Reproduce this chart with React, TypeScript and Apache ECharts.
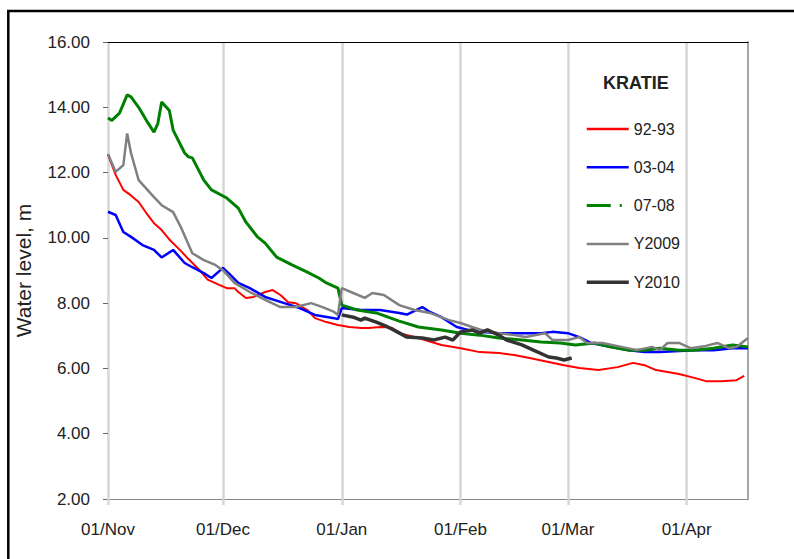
import React, { useEffect, useRef } from 'react';
import * as echarts from 'echarts';

// Day offsets counted from 01/Nov
const monthTickDays = [0, 30, 61, 92, 120, 151];
const monthTickLabels = ['01/Nov', '01/Dec', '01/Jan', '01/Feb', '01/Mar', '01/Apr'];
const yTicks = [2, 4, 6, 8, 10, 12, 14, 16];
const seriesNames = ['92-93', '03-04', '07-08', 'Y2009', 'Y2010'];

const days9293 = [0, 2, 4, 6, 8, 10, 12, 14, 16, 19, 21, 24, 26, 29, 31, 33, 34, 36, 38, 41, 43, 45, 47, 49, 52, 54, 57, 60, 63, 66, 68, 71, 74, 76, 81, 87, 92, 97, 102, 106, 110, 115, 119, 123, 128, 133, 137, 140, 143, 149, 153, 156, 160, 164, 166];
const level9293 = [12.55, 11.93, 11.47, 11.3, 11.1, 10.76, 10.45, 10.24, 9.95, 9.6, 9.35, 9.0, 8.72, 8.56, 8.46, 8.46, 8.34, 8.16, 8.19, 8.34, 8.4, 8.25, 8.03, 8.0, 7.79, 7.54, 7.42, 7.33, 7.27, 7.24, 7.24, 7.27, 7.25, 7.08, 6.93, 6.72, 6.62, 6.5, 6.47, 6.41, 6.32, 6.2, 6.1, 6.01, 5.95, 6.04, 6.17, 6.1, 5.95, 5.83, 5.71, 5.61, 5.61, 5.64, 5.77];

const days0304 = [0, 2, 4, 6, 9, 12, 14, 17, 20, 22, 25, 27, 30, 32, 34, 37, 41, 46, 50, 54, 59, 60, 61, 66, 71, 76, 78, 82, 84, 87, 91, 94, 97, 102, 108, 113, 116, 120, 123, 126, 131, 136, 140, 144, 153, 158, 163, 167];
const level0304 = [10.8, 10.7, 10.18, 10.03, 9.78, 9.63, 9.4, 9.63, 9.23, 9.1, 8.92, 8.77, 9.08, 8.86, 8.62, 8.46, 8.19, 8.0, 7.85, 7.64, 7.54, 7.51, 7.85, 7.79, 7.79, 7.7, 7.65, 7.88, 7.73, 7.57, 7.27, 7.18, 7.12, 7.08, 7.08, 7.08, 7.12, 7.08, 6.96, 6.78, 6.66, 6.56, 6.5, 6.5, 6.56, 6.56, 6.62, 6.62];

const days0708 = [0, 1, 3, 5, 6, 8, 10, 12, 13, 14, 16, 17, 20, 21, 22, 25, 27, 31, 34, 36, 39, 41, 44, 48, 52, 55, 57, 60, 61, 65, 70, 76, 81, 87, 92, 97, 102, 108, 113, 118, 122, 127, 131, 136, 140, 144, 149, 153, 158, 163, 167];
const level0708 = [13.67, 13.6, 13.82, 14.38, 14.32, 14.0, 13.6, 13.24, 13.5, 14.16, 13.9, 13.3, 12.6, 12.48, 12.45, 11.77, 11.47, 11.22, 10.91, 10.48, 10.03, 9.84, 9.41, 9.17, 8.95, 8.77, 8.62, 8.46, 7.94, 7.79, 7.7, 7.45, 7.27, 7.18, 7.08, 7.02, 6.93, 6.87, 6.81, 6.78, 6.72, 6.78, 6.66, 6.56, 6.56, 6.62, 6.56, 6.56, 6.62, 6.72, 6.66];

const days2009 = [0, 2, 4, 5, 6, 8, 12, 14, 17, 19, 22, 25, 28, 30, 33, 37, 41, 45, 49, 53, 56, 59, 60, 61, 64, 67, 69, 72, 76, 80, 84, 89, 92, 95, 99, 102, 106, 109, 114, 116, 120, 123, 125, 129, 134, 138, 142, 144, 146, 149, 152, 156, 159, 162, 164, 167];
const level2009 = [12.57, 12.02, 12.23, 13.2, 12.6, 11.77, 11.25, 11.0, 10.79, 10.33, 9.53, 9.32, 9.17, 9.01, 8.62, 8.34, 8.1, 7.88, 7.88, 8.0, 7.88, 7.73, 7.64, 8.46, 8.31, 8.16, 8.31, 8.25, 7.94, 7.79, 7.7, 7.48, 7.39, 7.27, 7.12, 7.08, 7.02, 6.96, 7.08, 6.87, 6.87, 6.96, 6.78, 6.78, 6.66, 6.56, 6.66, 6.56, 6.78, 6.78, 6.62, 6.69, 6.78, 6.62, 6.66, 6.93];

const days2010 = [61, 64, 66, 67, 70, 73, 75, 78, 82, 85, 88, 90, 92, 95, 97, 99, 102, 104, 108, 111, 115, 117, 119, 121];
const level2010 = [7.64, 7.57, 7.48, 7.54, 7.42, 7.27, 7.15, 6.96, 6.93, 6.87, 6.96, 6.87, 7.12, 7.18, 7.08, 7.18, 7.02, 6.87, 6.72, 6.56, 6.35, 6.32, 6.26, 6.32];

const FONT = 'Liberation Sans, Arial, sans-serif';

const pairs = (d: number[], v: number[]) => d.map((x, i) => [x, v[i]]);

export default function App() {
  const ref = useRef<HTMLDivElement>(null);
  useEffect(() => {
    if (!ref.current) return;
    const chart = echarts.init(ref.current, undefined, { renderer: 'svg' });
    const colors = ['#ff0000', '#0000ff', '#008000', '#808080', '#333333'];
    const widths = [2, 2.5, 3, 2.5, 3.5];
    const dataSets = [
      pairs(days9293, level9293),
      pairs(days0304, level0304),
      pairs(days0708, level0708),
      pairs(days2009, level2009),
      pairs(days2010, level2010),
    ];
    chart.setOption({
      animation: false,
      backgroundColor: '#ffffff',
      title: {
        text: 'KRATIE',
        left: 603,
        top: 74,
        padding: 0,
        textStyle: { fontFamily: FONT, fontSize: 18, fontWeight: 'bold', color: '#222' },
      },
      legend: {
        orient: 'vertical',
        left: 585,
        top: 121,
        padding: 0,
        itemWidth: 42,
        itemHeight: 14,
        itemGap: 22.3,
        itemStyle: { color: 'rgba(0,0,0,0)', borderWidth: 0, opacity: 0 },
        textStyle: { fontFamily: FONT, fontSize: 16, color: '#222' },
        data: seriesNames.map((n, i) => ({
          name: n,
          itemStyle: { color: 'rgba(0,0,0,0)', borderWidth: 0, opacity: 0 },
          lineStyle: i === 2 ? { width: 3, type: [24, 9, 2, 20] } : { width: i === 4 ? 3.5 : 2.5 },
        })),
      },
      grid: { left: 108, top: 42, right: 46, bottom: 60, containLabel: false, outerBoundsMode: 'none' },
      xAxis: [
        {
          type: 'value',
          min: 0,
          max: 167,
          axisLine: { show: true, onZero: false, lineStyle: { color: '#888', width: 1 } },
          axisTick: { show: true, customValues: monthTickDays, length: 6, lineStyle: { color: '#d6d6d6', width: 2.5 } },
          axisLabel: {
            customValues: monthTickDays,
            margin: 22,
            fontFamily: FONT,
            fontSize: 17,
            color: '#222',
            formatter: (v: number) => monthTickLabels[monthTickDays.indexOf(v)] ?? '',
          },
          splitLine: { show: true, lineStyle: { color: '#d6d6d6', width: 2.5 } },
        },
        {
          type: 'value',
          position: 'top',
          min: 0,
          max: 167,
          axisLine: { show: true, onZero: false, lineStyle: { color: '#000', width: 1 } },
          axisTick: { show: false },
          axisLabel: { show: false },
          splitLine: { show: false },
        },
      ],
      yAxis: [
        {
          type: 'value',
          min: yTicks[0],
          max: yTicks[yTicks.length - 1],
          interval: 2,
          name: 'Water level, m',
          nameLocation: 'middle',
          nameRotate: 90,
          nameGap: 74,
          nameTextStyle: { fontFamily: FONT, fontSize: 21, color: '#222' },
          axisLine: { show: false },
          axisTick: { show: true, inside: false, length: 5, lineStyle: { color: '#666', width: 1 } },
          axisLabel: {
            margin: 18,
            fontFamily: FONT,
            fontSize: 17,
            color: '#222',
            formatter: (v: number) => v.toFixed(2),
          },
          splitLine: { show: false },
        },
        {
          type: 'value',
          position: 'right',
          min: yTicks[0],
          max: yTicks[yTicks.length - 1],
          interval: 2,
          axisLine: { show: true, onZero: false, lineStyle: { color: '#a6a6a6', width: 2 } },
          axisTick: { show: false },
          axisLabel: { show: false },
          splitLine: { show: false },
        },
      ],
      graphic: [
        {
          type: 'rect',
          shape: { x: 8.3, y: 11, width: 800, height: 560 },
          style: { fill: 'none', stroke: '#000', lineWidth: 2.5 },
          silent: true,
          z: 100,
        },
      ],
      series: seriesNames.map((n, i) => ({
        name: n,
        type: 'line',
        xAxisIndex: 0,
        yAxisIndex: 0,
        symbol: 'none',
        smooth: false,
        data: dataSets[i],
        lineStyle: { color: colors[i], width: widths[i] },
        itemStyle: { color: colors[i] },
      })),
    });
    return () => chart.dispose();
  }, []);
  return <div ref={ref} style={{ position: 'fixed', left: 0, top: 0, width: 794, height: 559 }} />;
}
